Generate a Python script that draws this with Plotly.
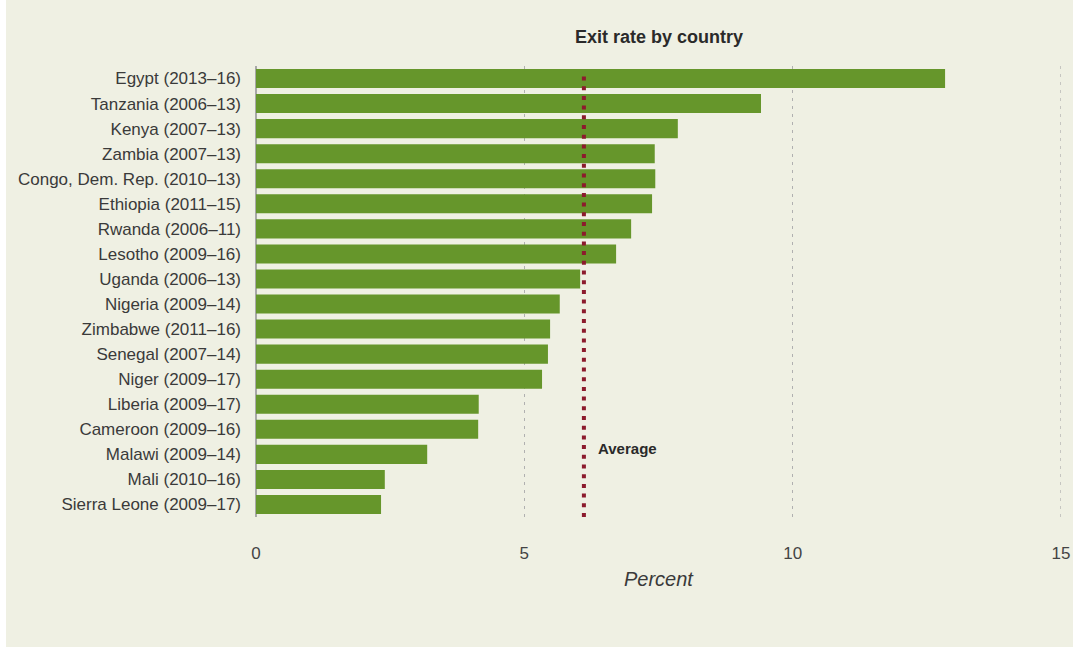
import plotly.graph_objects as go

countries = [
    "Egypt (2013–16)", "Tanzania (2006–13)", "Kenya (2007–13)", "Zambia (2007–13)",
    "Congo, Dem. Rep. (2010–13)", "Ethiopia (2011–15)", "Rwanda (2006–11)",
    "Lesotho (2009–16)", "Uganda (2006–13)", "Nigeria (2009–14)", "Zimbabwe (2011–16)",
    "Senegal (2007–14)", "Niger (2009–17)", "Liberia (2009–17)", "Cameroon (2009–16)",
    "Malawi (2009–14)", "Mali (2010–16)", "Sierra Leone (2009–17)",
]
exit_rate = [12.84, 9.41, 7.86, 7.43, 7.44, 7.38, 6.99, 6.71, 6.04, 5.66, 5.48,
             5.44, 5.33, 4.15, 4.14, 3.19, 2.40, 2.33]
average = 6.11
x_ticks = [0, 5, 10, 15]

BG = "#EFF0E3"
GREEN = "#66962B"
RED = "#8C1B2D"
GRID = "#b0b0b0"

fig = go.Figure()
fig.add_trace(go.Bar(
    x=exit_rate, y=countries, orientation="h",
    marker=dict(color=GREEN, line=dict(width=0)),
    width=0.76, hoverinfo="x+y",
))

fig.update_layout(
    width=1073, height=647,
    margin=dict(l=256, r=12, t=66, b=130, autoexpand=False),
    paper_bgcolor=BG, plot_bgcolor=BG,
    showlegend=False,
    font=dict(family="Liberation Sans, Arial, sans-serif", color="#3a3a3a"),
    xaxis=dict(
        range=[x_ticks[0], x_ticks[-1]], tickvals=x_ticks,
        ticktext=[str(v) for v in x_ticks],
        showgrid=True, gridcolor=GRID, gridwidth=1.3, griddash="3px,5px",
        zeroline=True, zerolinecolor="#a8a8a8", zerolinewidth=2,
        showline=False, ticks="", ticklabelstandoff=24, automargin=False,
        tickfont=dict(size=17, color="#444444"),
    ),
    yaxis=dict(
        categoryorder="array", categoryarray=countries, autorange="reversed",
        showgrid=False, zeroline=False, showline=False, ticks="",
        ticklabelstandoff=14, automargin=False,
        tickfont=dict(size=17, color="#3a3a3a"),
    ),
    shapes=[
        dict(type="rect", xref="paper", yref="paper",
             x0=-256/805, x1=-250/805, y0=-130/451, y1=1 + 66/451,
             fillcolor="white", line=dict(width=0), layer="below"),
        dict(type="line", xref="x", yref="paper",
             x0=x_ticks[-1], x1=x_ticks[-1], y0=0, y1=1,
             x0shift=-0.002, x1shift=-0.002,
             line=dict(color=GRID, width=1.3, dash="3px,5px"), layer="below"),
        dict(type="line", xref="x", yref="paper",
             x0=average, x1=average, y0=0, y1=0.98,
             line=dict(color=RED, width=4, dash="4px,5.7px")),
    ],
    annotations=[
        dict(text="<b>Exit rate by country</b>", xref="paper", yref="paper",
             x=0.5, y=1 + (66 - 37) / 451, yanchor="middle", xanchor="center",
             showarrow=False, font=dict(size=18, color="#2a2a2a")),
        dict(text="<b>Average</b>", xref="x", yref="paper",
             x=average, xshift=12, y=(517 - 448) / 451, xanchor="left",
             yanchor="middle", showarrow=False,
             font=dict(size=15, color="#2a2a2a")),
        dict(text="<i>Percent</i>", xref="paper", yref="paper",
             x=0.5, y=(517 - 579) / 451, xanchor="center", yanchor="middle",
             showarrow=False, font=dict(size=20, color="#3a3a3a")),
    ],
)

fig.write_html(
    "out.html",
    config={"displayModeBar": False},
    post_script="document.body.style.margin='0';document.body.style.overflow='hidden';",
)
